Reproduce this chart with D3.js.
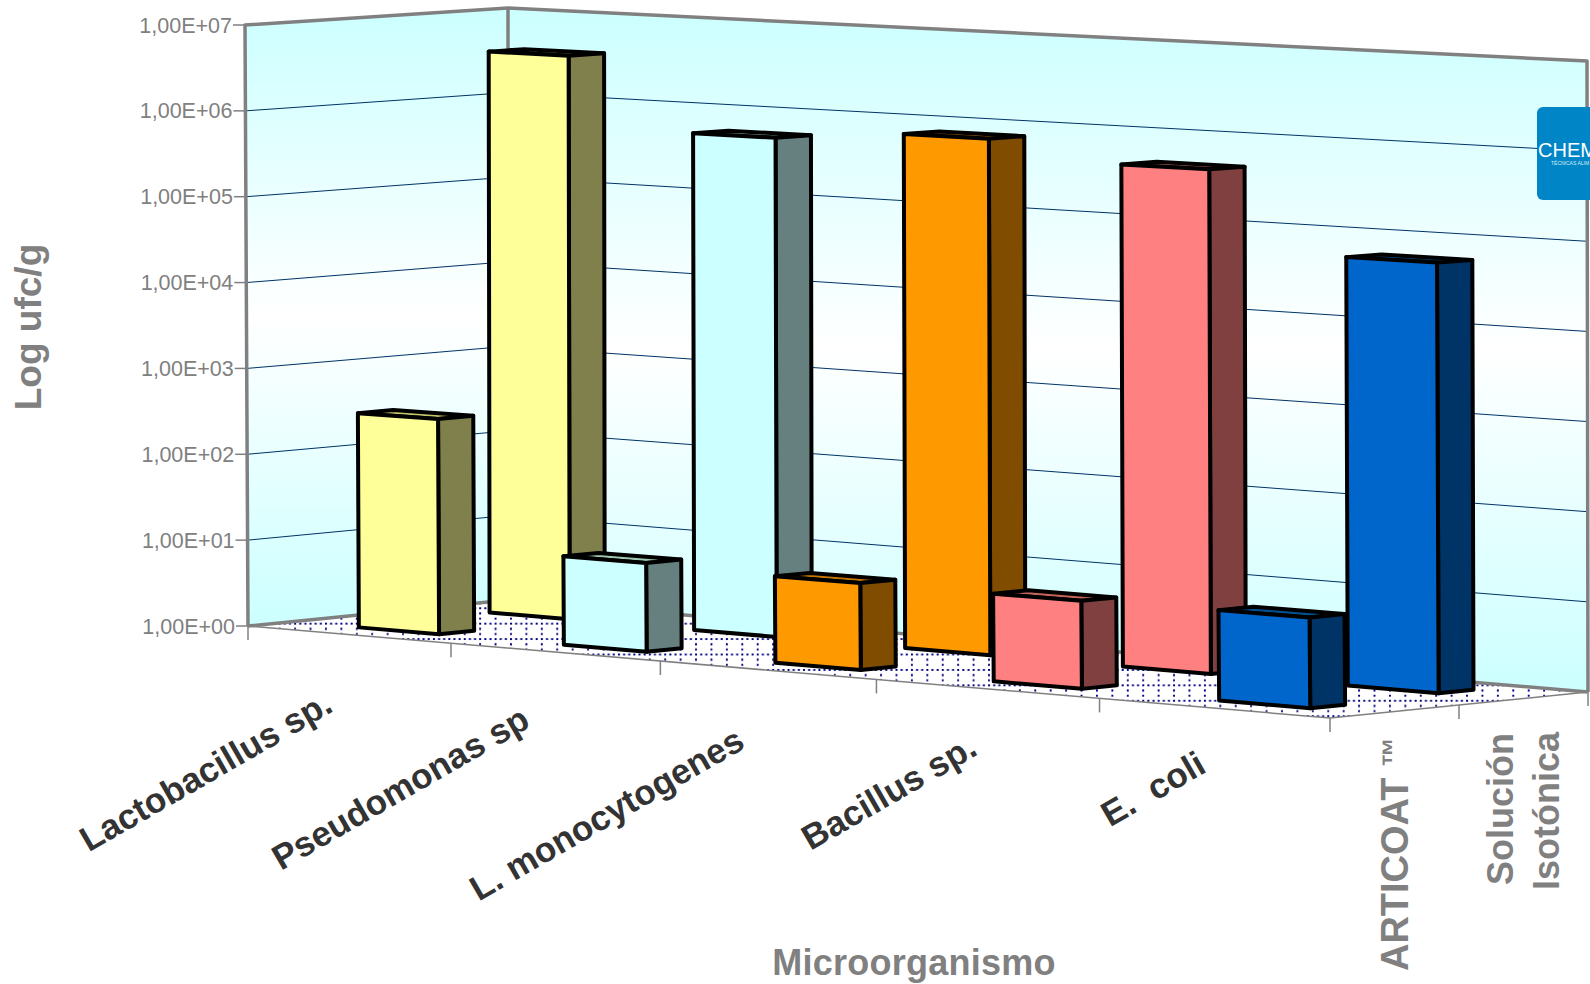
<!DOCTYPE html>
<html>
<head>
<meta charset="utf-8">
<script src="https://cdn.jsdelivr.net/npm/d3@7"></script>
<style>
  html, body { margin: 0; padding: 0; background: #fff; }
  svg { display: block; font-family: "Liberation Sans", Arial, sans-serif; }
</style>
</head>
<body>
<svg width="1590" height="984"></svg>
<script>
const categories = ["Lactobacillus sp.", "Pseudomonas sp", "L. monocytogenes", "Bacillus sp.", "E.  coli"];
const articoat = [310, 10.4, 9.6, 9.6, 10];
const solucion = [3800000, 570000, 760000, 470000, 60000];
const tickValues = [1, 10, 100, 1000, 10000, 100000, 1000000, 10000000];
const tickLabels = ["1,00E+00", "1,00E+01", "1,00E+02", "1,00E+03", "1,00E+04", "1,00E+05", "1,00E+06", "1,00E+07"];
const faceColors = ["#ffff99", "#ccffff", "#ff9900", "#ff8080", "#0066cc"];

const svg = d3.select("svg");
const gray = "#808080";

// corners of the 3d box as they land on the page, [depth][side]
const floorBox = [[[248, 626], [1330, 718]], [[508, 600], [1588, 692]]];
const topBox = [[[245, 25], [1324, 78]], [[508, 8], [1587, 61]]];

const mix = (a, b, t) => [a[0] + (b[0] - a[0]) * t, a[1] + (b[1] - a[1]) * t];

// the category axis gets wider towards the viewer
const warp = (u) => (u * 0.9237) / (1 - 0.0763 * u);

const project = (u, v, t) => {
  const s = warp(u);
  const low = mix(mix(floorBox[0][0], floorBox[0][1], s), mix(floorBox[1][0], floorBox[1][1], s), v);
  const high = mix(mix(topBox[0][0], topBox[0][1], s), mix(topBox[1][0], topBox[1][1], s), v);
  return mix(low, high, t);
};

const valueScale = d3.scaleLog().domain([1, 10000000]).range([0, 1]);
const catScale = d3.scaleBand().domain(categories).range([0, 1]);
const rowScale = d3.scalePoint().domain(["ARTICOAT", "Solucion"]).range([0.235, 0.775]);

const barWidth = 0.079;
const barDepth = 0.135;
// the rows sit a little off the band centre
const rowShift = { ARTICOAT: 0.0065, Solucion: -0.003 };

const poly = d3.line().curve(d3.curveLinearClosed);

const defs = svg.append("defs");

const wallGradient = defs.append("linearGradient")
  .attr("id", "wall")
  .attr("x1", 0).attr("x2", 0).attr("y1", 0).attr("y2", 1);
wallGradient.append("stop").attr("offset", "0").attr("stop-color", "#ccffff");
wallGradient.append("stop").attr("offset", "0.5").attr("stop-color", "#ffffff");
wallGradient.append("stop").attr("offset", "1").attr("stop-color", "#ccffff");

// floor is a screen aligned dotted fill
const dots = defs.append("pattern")
  .attr("id", "floorDots")
  .attr("patternUnits", "userSpaceOnUse")
  .attr("x", 263.3).attr("y", 622.7)
  .attr("width", 15.42).attr("height", 15.42);
dots.append("path")
  .attr("d", "M0.9,0V15.42M0,0.9H15.42")
  .attr("stroke", "#000080")
  .attr("stroke-width", 2)
  .attr("stroke-dasharray", "2 3.14");

// walls
svg.append("path")
  .attr("d", poly([project(0, 0, 1), project(0, 1, 1), project(0, 1, 0), project(0, 0, 0)]))
  .attr("fill", "url(#wall)");
svg.append("path")
  .attr("d", poly([project(0, 1, 1), project(1, 1, 1), project(1, 1, 0), project(0, 1, 0)]))
  .attr("fill", "url(#wall)");

// floor
const floorPath = poly([project(0, 0, 0), project(1, 0, 0), project(1, 1, 0), project(0, 1, 0)]);
svg.append("path").attr("d", floorPath).attr("fill", "#fff");
svg.append("path").attr("d", floorPath).attr("fill", "url(#floorDots)");

// grid lines
const gridGroup = svg.append("g").attr("fill", "none").attr("stroke", "#003366").attr("stroke-width", 1);
tickValues.slice(1, -1).forEach((d) => {
  const t = valueScale(d);
  gridGroup.append("path")
    .attr("d", d3.line()([project(0, 0, t), project(0, 1, t), project(1, 1, t)]));
});

// box edges
const edges = svg.append("g").attr("fill", "none").attr("stroke", gray).attr("stroke-linejoin", "round");
edges.append("path")
  .attr("stroke-width", 3.5)
  .attr("d", d3.line()([project(0, 0, 0), project(0, 0, 1), project(0, 1, 1), project(1, 1, 1), project(1, 1, 0)]));
edges.append("path")
  .attr("stroke-width", 3.5)
  .attr("d", d3.line()([project(0, 1, 1), project(0, 1, 0)]));
edges.append("path")
  .attr("stroke-width", 3.5)
  .attr("d", d3.line()([project(0, 0, 0), project(0, 1, 0), project(1, 1, 0)]));
edges.append("path")
  .attr("stroke-width", 1.5)
  .attr("d", d3.line()([project(0, 0, 0), project(1, 0, 0), project(1, 1, 0)]));

// value axis
const axisGroup = svg.append("g");
tickValues.forEach((d, i) => {
  const p = project(0, 0, valueScale(d));
  axisGroup.append("line")
    .attr("x1", p[0] - 12).attr("x2", p[0]).attr("y1", p[1]).attr("y2", p[1])
    .attr("stroke", gray).attr("stroke-width", 1.5);
  axisGroup.append("text")
    .attr("x", p[0] - 13).attr("y", p[1] + 7.5)
    .attr("text-anchor", "end")
    .attr("font-size", 21.5)
    .attr("fill", gray)
    .text(tickLabels[i]);
});

// ticks under the floor
const tickStops = [0, 0.2, 0.4, 0.6, 0.8, 1];
tickStops.forEach((u) => {
  const p = project(u, 0, 0);
  axisGroup.append("line")
    .attr("x1", p[0]).attr("x2", p[0]).attr("y1", p[1]).attr("y2", p[1] + 14)
    .attr("stroke", gray).attr("stroke-width", 1.5);
});
[0.5, 1].forEach((v) => {
  const p = project(1, v, 0);
  axisGroup.append("line")
    .attr("x1", p[0]).attr("x2", p[0]).attr("y1", p[1]).attr("y2", p[1] + 14)
    .attr("stroke", gray).attr("stroke-width", 1.5);
});

// bars, back row first
const sideColor = (color) => {
  const c = d3.rgb(color);
  return d3.rgb(c.r * 0.5, c.g * 0.5, c.b * 0.5).formatHex();
};
const topColor = (color) => {
  const c = d3.rgb(color);
  return d3.rgb(c.r * 0.78, c.g * 0.78, c.b * 0.7).formatHex();
};

const drawBar = (group, name, rowName, value, color) => {
  const u0 = catScale(name) + catScale.bandwidth() / 2 - barWidth / 2 + rowShift[rowName];
  const u1 = u0 + barWidth;
  const v0 = rowScale(rowName) - barDepth / 2;
  const v1 = v0 + barDepth;
  const t = valueScale(value);
  group.append("path")
    .attr("d", poly([project(u0, v0, t), project(u0, v1, t), project(u1, v1, t), project(u1, v0, t)]))
    .attr("fill", topColor(color));
  group.append("path")
    .attr("d", poly([project(u1, v0, 0), project(u1, v1, 0), project(u1, v1, t), project(u1, v0, t)]))
    .attr("fill", sideColor(color));
  group.append("path")
    .attr("d", poly([project(u0, v0, 0), project(u1, v0, 0), project(u1, v0, t), project(u0, v0, t)]))
    .attr("fill", color);
};

const barGroup = svg.append("g")
  .attr("stroke", "#000")
  .attr("stroke-width", 4)
  .attr("stroke-linejoin", "round");
categories.forEach((name, i) => drawBar(barGroup, name, "Solucion", solucion[i], faceColors[i]));
categories.forEach((name, i) => drawBar(barGroup, name, "ARTICOAT", articoat[i], faceColors[i]));

// category labels, end of the text below each band
const labelNudge = [[-14, 76], [-23, 74], [-21, 77], [-8, 65], [-6, 63]];
categories.forEach((name, i) => {
  const u = catScale(name) + catScale.bandwidth() / 2;
  const p = project(u, 0, 0);
  svg.append("text")
    .attr("transform", `translate(${p[0] + labelNudge[i][0]}, ${p[1] + labelNudge[i][1]}) rotate(-30)`)
    .attr("text-anchor", "end")
    .attr("font-size", 35)
    .attr("font-weight", "bold")
    .attr("fill", "#333333")
    .style("white-space", "pre")
    .text(name);
});

// series labels
const seriesLabel = (x, y, text, size) => svg.append("text")
  .attr("transform", `translate(${x}, ${y}) rotate(-90)`)
  .attr("text-anchor", "end")
  .attr("font-size", size)
  .attr("font-weight", "bold")
  .attr("fill", gray)
  .style("white-space", "pre")
  .text(text);

const articoatLabel = seriesLabel(1408, 737, "ARTICOAT ", 38);
articoatLabel.append("tspan")
  .attr("font-size", 30)
  .attr("dy", -5)
  .text("™");
seriesLabel(1513, 733, "Solución", 36);
seriesLabel(1559, 732, "Isotónica", 36);

// axis titles
svg.append("text")
  .attr("transform", "translate(41, 327) rotate(-90)")
  .attr("text-anchor", "middle")
  .attr("font-size", 37)
  .attr("font-weight", "bold")
  .attr("fill", gray)
  .text("Log ufc/g");

svg.append("text")
  .attr("x", 914)
  .attr("y", 975)
  .attr("text-anchor", "middle")
  .attr("font-size", 36)
  .attr("font-weight", "bold")
  .attr("letter-spacing", 0.25)
  .attr("fill", gray)
  .text("Microorganismo");

// logo stuck on the corner
const logo = svg.append("g");
logo.append("rect")
  .attr("x", 1537).attr("y", 107)
  .attr("width", 70).attr("height", 93)
  .attr("rx", 6)
  .attr("fill", "#0085c7");
logo.append("text")
  .attr("x", 1538).attr("y", 157)
  .attr("font-size", 20)
  .attr("fill", "#fff")
  .text("CHEM");
logo.append("text")
  .attr("x", 1551).attr("y", 165)
  .attr("font-size", 5)
  .attr("fill", "#d5eef8")
  .text("TÉCNICAS ALIM");
</script>
</body>
</html>
